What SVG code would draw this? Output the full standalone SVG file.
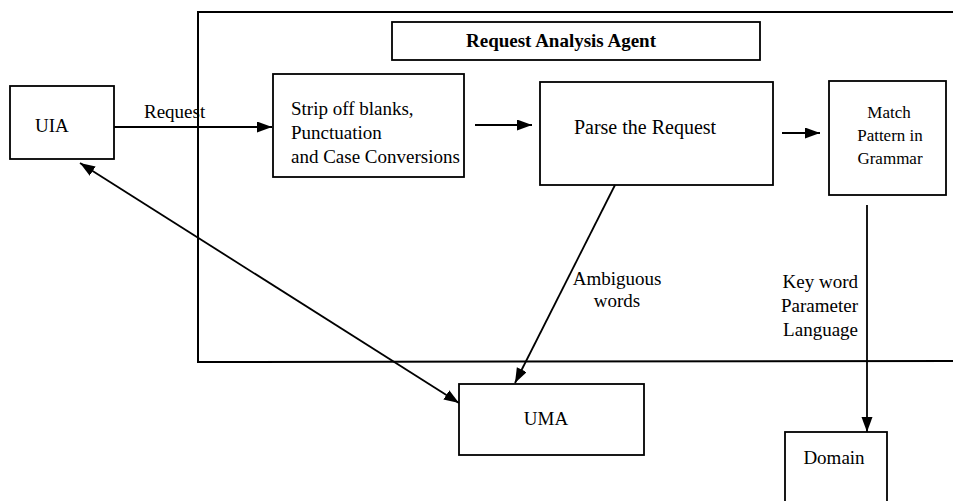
<svg xmlns="http://www.w3.org/2000/svg" width="953" height="501" viewBox="0 0 953 501">
<style>
.box{fill:none;stroke:#000;stroke-width:1.8}
.frame{fill:none;stroke:#000;stroke-width:2}
.t{font-family:"Liberation Serif","Times New Roman",serif;font-size:19px;fill:#000}
.s{font-size:17px}
.p{font-size:20px}
.b{font-weight:bold}
.c{text-anchor:middle}
.r{text-anchor:end}
.ln{fill:none;stroke:#000;stroke-width:1.8}
</style>
<defs>
<marker id="ah" markerUnits="userSpaceOnUse" markerWidth="16" markerHeight="12" refX="15" refY="5.5" orient="auto-start-reverse">
<path d="M0,0 L15,5.5 L0,11 z" fill="#000"/>
</marker>
</defs>
<rect width="953" height="501" fill="#fff"/>
<g id="agent-frame">
<path class="frame" d="M953,12 L198,12 L198,362 L953,361"/>
</g>
<g id="title">
<rect class="box" x="392" y="22" width="368" height="38"/>
<text class="t b c" x="561" y="47">Request Analysis Agent</text>
</g>
<g id="uia">
<rect class="box" x="10" y="86" width="104" height="73"/>
<text class="t" x="35" y="132">UIA</text>
</g>
<g id="strip">
<rect class="box" x="273" y="74" width="191" height="103"/>
<text class="t" x="291" y="115">Strip off blanks,</text>
<text class="t" x="291" y="139">Punctuation</text>
<text class="t" x="291" y="163">and Case Conversions</text>
</g>
<g id="parse">
<rect class="box" x="540" y="82" width="233" height="103"/>
<text class="t p c" x="645" y="134">Parse the Request</text>
</g>
<g id="match">
<rect class="box" x="829" y="81" width="117" height="114"/>
<text class="t s c" x="889" y="118">Match</text>
<text class="t s c" x="890" y="141">Pattern in</text>
<text class="t s c" x="890" y="164">Grammar</text>
</g>
<g id="uma">
<rect class="box" x="459" y="384" width="185" height="71"/>
<text class="t c" x="546" y="425">UMA</text>
</g>
<g id="domain">
<rect class="box" x="785" y="432" width="102" height="90"/>
<text class="t c" x="834" y="464">Domain</text>
</g>
<g id="connectors">
<line class="ln" x1="114" y1="127" x2="272" y2="127" marker-end="url(#ah)"/>
<line class="ln" x1="475" y1="125" x2="532" y2="125" marker-end="url(#ah)"/>
<line class="ln" x1="782" y1="133" x2="820" y2="133" marker-end="url(#ah)"/>
<line class="ln" x1="615" y1="185" x2="515" y2="383" marker-end="url(#ah)"/>
<line class="ln" x1="867" y1="205" x2="867" y2="432" marker-end="url(#ah)"/>
<line class="ln" x1="80" y1="163" x2="459" y2="403" marker-start="url(#ah)" marker-end="url(#ah)"/>
<text class="t" x="144" y="118">Request</text>
<text class="t c" x="617" y="285">Ambiguous</text>
<text class="t c" x="617" y="307">words</text>
<text class="t r" x="858" y="288">Key word</text>
<text class="t r" x="858" y="312">Parameter</text>
<text class="t r" x="858" y="336">Language</text>
</g>
</svg>
